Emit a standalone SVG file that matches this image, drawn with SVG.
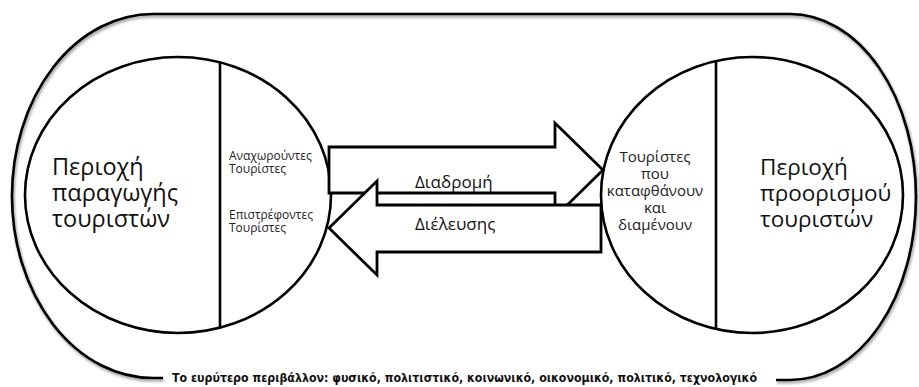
<svg xmlns="http://www.w3.org/2000/svg" width="919" height="387" viewBox="0 0 919 387">
<defs>
<filter id="sh" x="-5%" y="-5%" width="110%" height="110%">
<feGaussianBlur in="SourceAlpha" stdDeviation="1.6"/>
<feOffset dx="1" dy="1.5" result="b"/>
<feComponentTransfer><feFuncA type="linear" slope="0.45"/></feComponentTransfer>
<feMerge><feMergeNode/><feMergeNode in="SourceGraphic"/></feMerge>
</filter>
</defs>
<style>
.ln{fill:none;stroke:#000;stroke-width:2.6}
.reg{fill:#fff;stroke:#000;stroke-width:2.6}
.arr{fill:#fff;stroke:#000;stroke-width:2.8;stroke-linejoin:miter}
.big{font-family:"Open Sans","Noto Sans",sans-serif;font-size:23.5px;fill:#111}
.sm{font-family:"Open Sans","Noto Sans",sans-serif;font-size:12px;fill:#222}
.md{font-family:"Open Sans","Noto Sans",sans-serif;font-size:15px;fill:#222}
.lbl{font-family:"Open Sans","Noto Sans",sans-serif;font-size:17px;fill:#111}
.env{font-family:"DejaVu Sans","Verdana",sans-serif;font-weight:bold;font-size:11.5px;fill:#111}
</style>
<rect width="919" height="387" fill="#fff"/>
<g id="environment">
<path class="ln" stroke-width="3" filter="url(#sh)" d="M163 378 L153 378 A141 182 0 0 1 153 14 L790 14 A126 183 0 0 1 790 380 L776 380"/>
<text class="env" x="172" y="382" textLength="585" lengthAdjust="spacingAndGlyphs">Το ευρύτερο περιβάλλον: φυσικό, πολιτιστικό, κοινωνικό, οικονομικό, πολιτικό, τεχνολογικό</text>
</g>
<g id="origin">
<ellipse class="reg" cx="178" cy="195" rx="153" ry="138"/>
<line class="ln" x1="220" y1="63" x2="220" y2="328"/>
<text class="big"><tspan x="52" y="175">Περιοχή</tspan><tspan x="52" y="201">παραγωγής</tspan><tspan x="52" y="227">τουριστών</tspan></text>
<text class="sm"><tspan x="229" y="160">Αναχωρούντες</tspan><tspan x="229" y="173">Τουρίστες</tspan></text>
<text class="sm"><tspan x="229" y="219">Επιστρέφοντες</tspan><tspan x="229" y="232">Τουρίστες</tspan></text>
</g>
<g id="destination">
<ellipse class="reg" cx="752" cy="195" rx="151" ry="138"/>
<line class="ln" x1="716" y1="61" x2="716" y2="329"/>
<text class="big" style="font-size:22.5px"><tspan x="760" y="175">Περιοχή</tspan><tspan x="760" y="201">προορισμού</tspan><tspan x="760" y="227">τουριστών</tspan></text>
<text class="md" text-anchor="middle"><tspan x="655" y="162">Τουρίστες</tspan><tspan x="655" y="179">που</tspan><tspan x="655" y="196">καταφθάνουν</tspan><tspan x="655" y="213">και</tspan><tspan x="655" y="230">διαμένουν</tspan></text>
</g>
<g id="connectors">
<g id="route">
<polygon class="arr" points="329,147 555,147 555,123 603,170 555,217 555,193 329,193"/>
<text class="lbl" x="415" y="188">Διαδρομή</text>
</g>
<g id="transit">
<polygon class="arr" points="601,205 377,205 377,181 329,228 377,275 377,252 601,252"/>
<text class="lbl" x="415" y="230">Διέλευσης</text>
</g>
</g>
</svg>
